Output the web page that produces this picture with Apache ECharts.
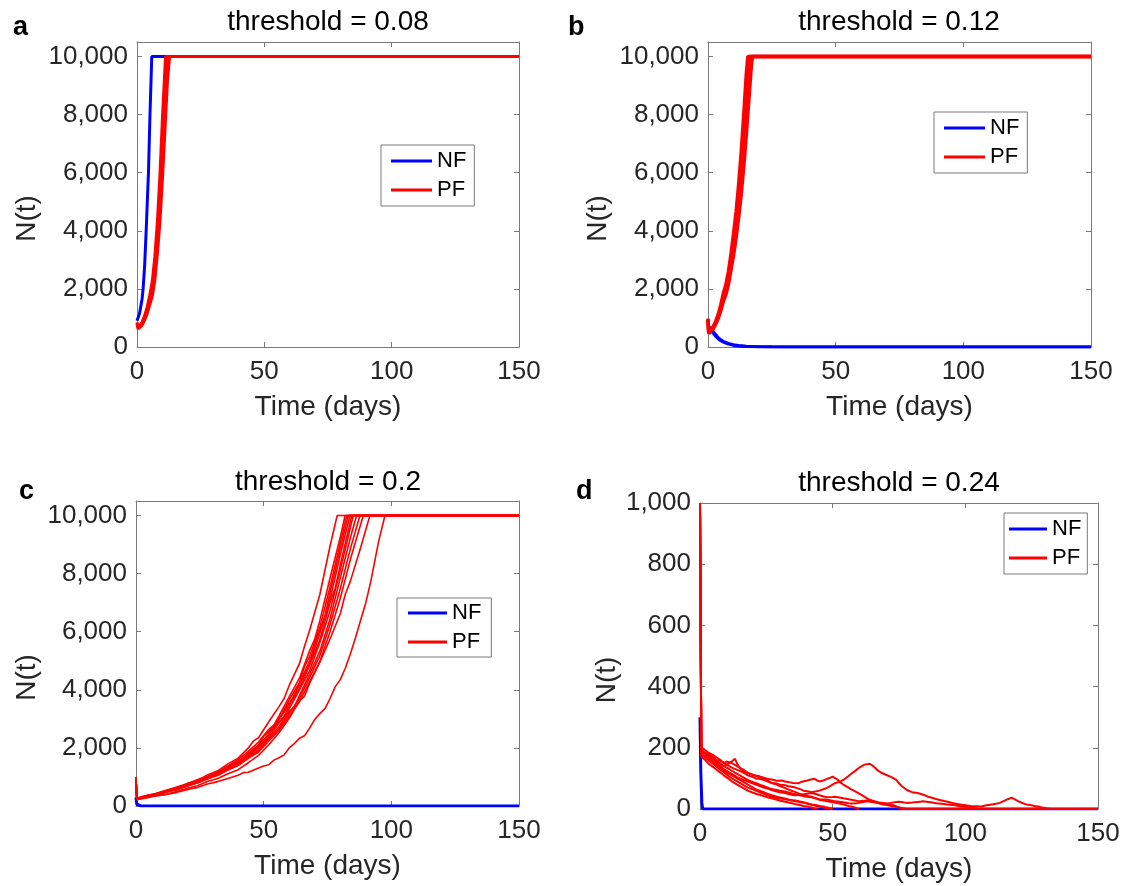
<!DOCTYPE html>
<html>
<head>
<meta charset="utf-8">
<script src="https://cdn.jsdelivr.net/npm/echarts@6/dist/echarts.min.js"></script>
<style>
html,body{margin:0;padding:0;background:#fff;}
#chart{width:1124px;height:886px;}
</style>
</head>
<body>
<div id="chart"></div>
<script>
// ---------- data (time in days, N(t)) ----------
const xTicks = [0, 50, 100, 150];
const titles = ['threshold = 0.08', 'threshold = 0.12', 'threshold = 0.2', 'threshold = 0.24'];
const letters = ['a', 'b', 'c', 'd'];
const seriesNames = ['NF', 'PF'];

// panel a
const aNF1 = [[0,900],[1,1150],[2,1650],[2.4,2000],[3,2800],[3.6,4000],[4.5,6000],[5.1,8000],[5.8,10000],[150,10000]];
const aPF1 = [[0,850],[0.5,680],[1,700],[2,860],[3,1080],[4,1380],[5,1780],[6,2250],[7,3100],[8,4300],[9,5900],[10,7900],[11.2,10000],[150,10000]];
const aPF2 = [[0,820],[0.5,650],[1,660],[2,800],[3,1000],[4,1250],[5,1600],[6,1900],[7,2600],[8,3600],[9,4900],[10,6600],[11,8400],[12,10000],[150,10000]];
const aPF3 = [[0,780],[0.5,620],[1,630],[2,750],[3,930],[4,1150],[5,1450],[6,1750],[7,2300],[8,3200],[9,4300],[10,5800],[11,7500],[12,9200],[12.8,10000],[150,10000]];

// panel b
const bNF1 = [[0,720],[1,640],[2,540],[3,430],[4,320],[5,250],[6,195],[8,125],[10,80],[12,50],[15,28],[20,12],[25,5],[30,0],[150,0]];
const bNF2 = [[0,660],[1,580],[2,480],[3,370],[4,280],[5,215],[6,165],[8,100],[10,55],[12,35],[15,18],[20,7],[25,2],[30,0],[150,0]];
const bPF1 = [[0,980],[0.3,500],[1,560],[2,700],[3,880],[4,1120],[5,1450],[6,1850],[7,2150],[8,2600],[9,3200],[10,3900],[11,4650],[12,5600],[13,6700],[14,8000],[15,9400],[15.6,10000],[150,10000]];
const bPF2 = [[0,960],[0.3,480],[1,530],[2,660],[3,830],[4,1050],[5,1350],[6,1700],[7,1950],[8,2350],[9,2900],[10,3500],[11,4150],[12,4950],[13,5850],[14,7000],[15,8250],[16,9500],[16.5,10000],[150,10000]];
const bPF3 = [[0,940],[0.3,460],[1,500],[2,620],[3,780],[4,980],[5,1250],[6,1570],[7,1800],[8,2150],[9,2650],[10,3150],[11,3750],[12,4450],[13,5250],[14,6200],[15,7300],[16,8500],[17,9700],[17.4,10000],[150,10000]];

// panel c
const cNF1 = [[0,300],[0.3,60],[1,10],[2,0],[150,0]];
const cPF1 = [[0,1000],[0.3,260],[4,340],[8,410],[12,540],[16,610],[20,770],[24,880],[28,1070],[32,1210],[36,1450],[40,1650],[44,2000],[46,2240],[48,2350],[52,2900],[56,3420],[58,3700],[60,4150],[64,4900],[66,5500],[68,6050],[72,7280],[76,8950],[78.8,10000],[150,10000]];
const cPF2 = [[0,1000],[0.3,240],[4,300],[8,390],[12,490],[16,580],[20,700],[24,840],[28,1000],[32,1180],[36,1380],[40,1600],[44,1880],[48,2200],[52,2640],[54,2780],[56,3100],[60,3760],[64,4400],[68,5350],[70,5750],[72,6380],[76,7850],[80,9250],[81.9,10000],[150,10000]];
const cPF3 = [[0,1000],[0.3,255],[4,330],[8,425],[12,500],[16,620],[20,740],[24,840],[28,1010],[32,1140],[36,1350],[40,1530],[44,1820],[48,2100],[50,2400],[52,2560],[56,3000],[60,3650],[64,4250],[66,4800],[68,5150],[72,6150],[76,7550],[80,9050],[82.5,10000],[150,10000]];
const cPF4 = [[0,1000],[0.3,265],[4,350],[8,440],[12,540],[16,650],[20,770],[24,900],[28,1020],[32,1170],[36,1320],[40,1520],[44,1760],[48,2080],[52,2480],[56,2980],[60,3550],[62,3750],[64,4220],[68,5000],[72,6050],[74,6550],[76,7350],[80,8850],[83.1,10000],[150,10000]];
const cPF5 = [[0,1000],[0.3,235],[4,300],[8,395],[12,490],[16,570],[20,700],[24,860],[28,960],[32,1150],[36,1290],[40,1540],[44,1740],[48,2100],[52,2450],[56,2980],[60,3480],[64,4180],[68,4880],[72,5950],[76,7100],[80,8650],[83.8,10000],[150,10000]];
const cPF6 = [[0,1000],[0.3,250],[4,335],[8,400],[12,520],[16,600],[20,690],[24,830],[28,990],[32,1110],[36,1320],[40,1490],[44,1760],[48,2020],[52,2460],[56,2880],[58,3050],[60,3470],[64,4040],[68,4850],[72,5720],[76,7000],[78,7500],[80,8300],[84.5,10000],[150,10000]];
const cPF7 = [[0,1000],[0.3,270],[4,360],[8,430],[12,530],[16,640],[20,740],[24,850],[28,950],[32,1100],[36,1270],[40,1500],[44,1700],[48,2030],[52,2370],[56,2860],[60,3340],[64,4000],[68,4660],[72,5630],[76,6720],[80,8120],[84,9600],[85.1,10000],[150,10000]];
const cPF8 = [[0,1000],[0.3,240],[4,310],[8,390],[12,480],[16,560],[20,680],[24,800],[28,930],[32,1120],[36,1250],[40,1430],[44,1700],[48,1940],[52,2340],[56,2740],[60,3260],[62,3400],[64,3800],[68,4540],[72,5330],[76,6450],[80,7850],[84,9250],[86.4,10000],[150,10000]];
const cPF9 = [[0,1000],[0.3,260],[4,345],[8,420],[12,480],[16,600],[20,710],[24,800],[28,960],[32,1070],[36,1260],[40,1410],[44,1680],[48,1900],[52,2300],[56,2660],[60,3190],[64,3700],[68,4420],[72,5170],[76,6250],[80,7480],[84,8870],[87.7,10000],[150,10000]];
const cPF10 = [[0,1000],[0.3,250],[4,325],[8,385],[12,500],[16,570],[20,700],[24,790],[28,940],[32,1050],[36,1240],[40,1390],[44,1640],[48,1860],[52,2240],[56,2590],[60,3100],[64,3590],[68,4270],[72,4970],[76,6000],[80,7150],[84,8500],[88,9700],[89,10000],[150,10000]];
const cPF11 = [[0,1000],[0.3,230],[4,290],[8,360],[12,410],[16,500],[20,610],[24,700],[28,840],[32,950],[36,1110],[40,1250],[44,1490],[48,1740],[52,2110],[56,2520],[60,3020],[64,3620],[66,3780],[68,4230],[72,4950],[76,5750],[80,6620],[82,7300],[84,7750],[88,8900],[91.6,10000],[150,10000]];
const cPF12 = [[0,1000],[0.3,220],[4,280],[8,350],[12,400],[16,470],[20,560],[24,640],[28,760],[32,840],[36,950],[40,1060],[42,1150],[44,1160],[48,1310],[50,1380],[52,1420],[54,1580],[56,1660],[58,1760],[60,2000],[62,2150],[64,2330],[66,2420],[68,2680],[70,2980],[72,3180],[74,3350],[76,3700],[78,4100],[80,4350],[82,4750],[84,5250],[86,5800],[88,6400],[90,7000],[92,7750],[95,9100],[97.5,10000],[150,10000]];

// panel d
const dNF1 = [[0,300],[0.3,120],[0.7,20],[1,0],[150,0]];
const dPF1 = [[0,1000],[0.5,190],[2,182],[3,175],[5,168],[6,160],[8,156],[9,150],[11,140],[12,135],[14,128],[15,125],[17,116],[18,110],[20,104],[21,100],[23,98],[24,95],[26,88],[27,85],[29,83],[30,80],[32,78],[33,75],[35,72],[36,70],[38,64],[39,60],[41,57],[42,55],[44,58],[45,60],[47,66],[48,70],[50,80],[51,85],[53,90],[54,95],[56,108],[57,115],[59,128],[60,135],[62,145],[64,148],[65,142],[66,135],[67,126],[68,120],[70,112],[72,105],[73,100],[74,95],[75,84],[76,75],[78,62],[79,58],[80,55],[82,52],[83,50],[85,44],[86,40],[88,35],[90,30],[92,26],[94,22],[96,18],[98,15],[100,12],[102,10],[104,9],[106,8],[108,12],[110,15],[112,18],[113,20],[115,28],[116,32],[117.5,37],[119,30],[120,25],[122,18],[123,15],[125,12],[126,10],[128,7],[129,5],[132,0],[150,0]];
const dPF2 = [[0,1000],[0.5,200],[2,192],[3,185],[5,176],[6,170],[8,158],[9,150],[10,155],[12,150],[14,140],[15,134],[17,125],[18,118],[20,110],[22,108],[23,105],[25,100],[26,98],[28,95],[29,92],[31,93],[32,90],[34,87],[35,85],[37,84],[38,88],[40,92],[41,95],[43,99],[44,94],[45,90],[46,92],[47,95],[49,102],[50,106],[51,100],[52,95],[53,86],[54,80],[55,75],[56,70],[57,64],[58,60],[60,50],[61,45],[63,35],[64,30],[66,25],[67,22],[69,20],[70,18],[72,14],[73,12],[75,5],[76,0],[150,0]];
const dPF3 = [[0,1000],[0.5,185],[2,182],[3,180],[5,168],[6,160],[8,146],[9,140],[10,144],[11,150],[12,156],[13.2,164],[14,148],[15,135],[16,128],[17,120],[18,118],[19,115],[20,112],[21,108],[23,104],[24,100],[26,90],[27,85],[29,80],[30,75],[32,69],[33,65],[35,58],[36,55],[38,48],[39,45],[41,42],[42,40],[44,34],[45,30],[47,27],[48,25],[50,22],[51,20],[53,17],[54,15],[56,10],[57,8],[60,0]];
const dPF4 = [[0,1000],[0.5,175],[2,168],[3,160],[5,147],[6,140],[8,126],[9,120],[11,106],[12,100],[14,90],[15,85],[17,75],[18,70],[20,64],[21,60],[23,53],[24,50],[26,43],[27,40],[29,37],[30,35],[32,32],[33,30],[35,29],[36,28],[38,24],[39,22],[41,17],[42,15],[44,12],[45,10],[47,7],[48,5],[50,0]];
const dPF5 = [[0,1000],[0.5,195],[2,180],[3,170],[5,157],[6,150],[8,137],[9,130],[11,120],[12,115],[14,104],[15,100],[17,93],[18,90],[20,83],[21,80],[23,73],[24,70],[26,65],[27,62],[29,57],[30,55],[32,52],[33,50],[35,46],[36,45],[38,47],[39,48],[41,51],[42,52],[44,48],[45,45],[47,40],[48,38],[50,39],[51,40],[53,37],[54,35],[56,32],[57,30],[59,27],[60,25],[62,27],[63,28],[65,24],[66,22],[68,17],[69,15],[71,12],[72,10],[74,7],[75,5],[78,0]];
const dPF6 = [[0,1000],[0.5,180],[2,172],[3,165],[5,152],[6,145],[8,132],[9,125],[11,115],[12,110],[14,100],[15,95],[17,85],[18,80],[20,70],[21,65],[23,58],[24,55],[26,48],[27,45],[29,40],[30,38],[32,34],[33,32],[35,27],[36,25],[38,22],[39,20],[41,16],[42,14],[44,10],[45,8],[47,4],[48,3],[50,0]];
const dPF7 = [[0,1000],[0.5,170],[2,160],[3,150],[5,137],[6,130],[8,117],[9,110],[11,97],[12,90],[14,80],[15,75],[17,65],[18,60],[20,53],[21,50],[23,45],[24,42],[26,37],[27,35],[29,30],[30,28],[32,24],[33,22],[35,18],[36,16],[38,12],[39,10],[41,7],[42,5],[44,0]];
const dPF8 = [[0,1000],[0.5,190],[2,182],[3,175],[5,162],[6,155],[8,145],[9,140],[11,130],[12,125],[14,115],[15,110],[17,100],[18,95],[20,88],[21,85],[23,78],[24,75],[26,68],[27,65],[29,62],[30,60],[32,57],[33,55],[35,50],[36,48],[38,44],[39,42],[41,39],[42,38],[44,34],[45,32],[47,31],[48,30],[50,27],[51,25],[53,23],[54,22],[56,19],[57,18],[59,19],[60,20],[62,24],[63,25],[65,23],[66,22],[68,19],[69,18],[71,19],[72,20],[74,23],[75,24],[77,21],[78,20],[80,21],[81,22],[83,24],[84,25],[86,23],[87,22],[89,19],[90,18],[92,16],[93,15],[95,13],[96,12],[98,9],[99,8],[101,6],[102,5],[105,0]];

// ---------- layout / style ----------
const FONT = '"Liberation Sans", Arial, Helvetica, sans-serif';
const AXIS_COLOR = '#7a7a7a';
const TEXT_COLOR = '#262626';
const BLUE = '#0000ff';
const RED = '#ff0000';

const panels = [
  { grid:{left:137, top:42, width:382, height:305}, ymax:10500, yint:2000,
    nf:[aNF1], pf:[aPF1,aPF2,aPF3], nfW:3, pfW:3, nameGap:96,
    title:{x:328, y:8}, letter:{x:13, y:14},
    legend:{left:381, top:145, padding:[4,8,4,10], itemWidth:41, itemTextGap:3} },
  { grid:{left:708, top:42, width:383, height:305}, ymax:10500, yint:2000,
    nf:[bNF1,bNF2], pf:[bPF1,bPF2,bPF3], nfW:3, pfW:3.5, nameGap:96,
    title:{x:899, y:8}, letter:{x:568, y:14},
    legend:{left:934, top:112, padding:[4,8,4,10], itemWidth:41, itemTextGap:3} },
  { grid:{left:136, top:501, width:383, height:305}, ymax:10500, yint:2000,
    nf:[cNF1], pf:[cPF1,cPF2,cPF3,cPF4,cPF5,cPF6,cPF7,cPF8,cPF9,cPF10,cPF11,cPF12], nfW:3, pfW:1.6, nameGap:95,
    title:{x:328, y:468}, letter:{x:19, y:478},
    legend:{left:397, top:598, padding:[3,10,3,11], itemWidth:39, itemTextGap:5} },
  { grid:{left:700, top:503, width:398, height:306}, ymax:1000, yint:200,
    nf:[dNF1], pf:[dPF1,dPF2,dPF3,dPF4,dPF5,dPF6,dPF7,dPF8], nfW:3, pfW:2, nameGap:79,
    title:{x:899, y:469}, letter:{x:576, y:478},
    legend:{left:1004, top:513, padding:[4,6,4,5], itemWidth:38, itemTextGap:5} }
];

function fmt(v){ return String(v).replace(/\B(?=(\d{3})+(?!\d))/g, ','); }

const grid = [], xAxis = [], yAxis = [], series = [], title = [], legend = [];
panels.forEach((p, i) => {
  grid.push(Object.assign({containLabel:false, show:false}, p.grid));
  const axLine = {show:true, onZero:false, lineStyle:{color:AXIS_COLOR, width:1}};
  const tick = {show:true, inside:true, length:5, lineStyle:{color:AXIS_COLOR, width:1}};
  xAxis.push({type:'value', gridIndex:i, position:'bottom', min:xTicks[0], max:xTicks[xTicks.length-1], interval:xTicks[1]-xTicks[0],
    axisLine:axLine, axisTick:tick, splitLine:{show:false},
    axisLabel:{color:TEXT_COLOR, fontSize:26, fontFamily:FONT, margin:12},
    name:'Time (days)', nameLocation:'middle', nameGap:46,
    nameTextStyle:{color:TEXT_COLOR, fontSize:28, fontFamily:FONT}});
  xAxis.push({type:'value', gridIndex:i, position:'top', min:xTicks[0], max:xTicks[xTicks.length-1], interval:xTicks[1]-xTicks[0],
    axisLine:axLine, axisTick:tick, splitLine:{show:false}, axisLabel:{show:false}});
  yAxis.push({type:'value', gridIndex:i, position:'left', min:0, max:p.ymax, interval:p.yint,
    axisLine:axLine, axisTick:tick, splitLine:{show:false},
    axisLabel:{color:TEXT_COLOR, fontSize:26, fontFamily:FONT, margin:9, formatter:fmt, showMaxLabel:p.ymax % p.yint === 0},
    name:'N(t)', nameLocation:'middle', nameGap:p.nameGap,
    nameTextStyle:{color:TEXT_COLOR, fontSize:28, fontFamily:FONT, padding:[0,48,0,0]}});
  yAxis.push({type:'value', gridIndex:i, position:'right', min:0, max:p.ymax, interval:p.yint,
    axisLine:axLine, axisTick:tick, splitLine:{show:false}, axisLabel:{show:false}});

  p.nf.forEach(d => series.push({type:'line', name:seriesNames[0], xAxisIndex:2*i, yAxisIndex:2*i, data:d,
    symbol:'none', showSymbol:false, color:BLUE, lineStyle:{color:BLUE, width:p.nfW}, z:2, silent:true}));
  p.pf.forEach(d => series.push({type:'line', name:seriesNames[1], xAxisIndex:2*i, yAxisIndex:2*i, data:d,
    symbol:'none', showSymbol:false, color:RED, lineStyle:{color:RED, width:p.pfW}, z:3, silent:true}));

  title.push({text:titles[i], left:p.title.x, top:p.title.y, textAlign:'center', padding:0,
    textStyle:{color:'#000', fontSize:28, fontWeight:'normal', fontFamily:FONT}});
  title.push({text:letters[i], left:p.letter.x, top:p.letter.y, padding:0,
    textStyle:{color:'#000', fontSize:27, fontWeight:'bold', fontFamily:FONT}});

  legend.push(Object.assign({orient:'vertical', data:seriesNames, icon:'rect', itemHeight:3, itemGap:5,
    borderColor:AXIS_COLOR, borderWidth:1, backgroundColor:'#fff', selectedMode:false,
    textStyle:{color:'#000', fontSize:22, fontFamily:FONT, lineHeight:24}}, p.legend));
});

const chart = echarts.init(document.getElementById('chart'), null, {renderer:'canvas'});
chart.setOption({animation:false, backgroundColor:'#fff', grid, xAxis, yAxis, series, title, legend});
</script>
</body>
</html>
